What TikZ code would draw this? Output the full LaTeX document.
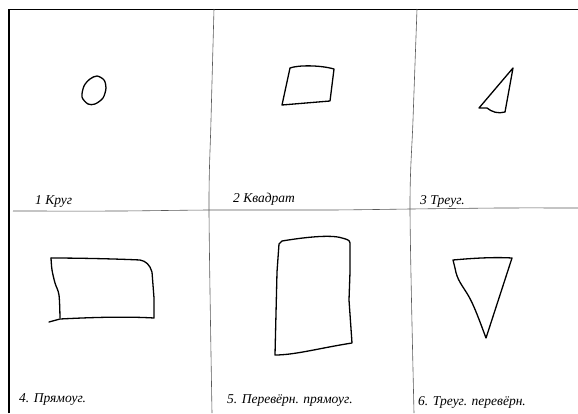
\documentclass[tikz,border=0pt]{standalone}
\usepackage{fontspec}
\setmainfont{Liberation Serif}
\begin{document}
\begin{tikzpicture}[x=1pt, y=-1pt,
  frame/.style={draw=black, line width=1.5pt},
  edge/.style={draw=black, line width=0.8pt},
  rule/.style={draw=black!65, line width=0.6pt},
  ink/.style={draw=black, line width=1.3pt, line join=round, line cap=round},
  lbl/.style={anchor=base west, inner sep=0pt, font=\itshape\fontsize{13.5}{15}\selectfont}]
  \useasboundingbox (0,0) rectangle (578,413);
  % sheet and panel rules
  \draw[frame] (9,413) -- (9,9);
  \draw[edge] (9,9) -- (578,9);
  \draw[rule] plot[smooth] coordinates {(13,211) (120,211) (210,210) (330,210) (411,209) (500,208) (578,208)};
  \draw[rule] plot[smooth] coordinates {(214,9) (211,120) (209,210) (212,413)};
  \draw[rule] plot[smooth] coordinates {(417,9) (413,120) (410,210) (414,413)};
  % 1: circle
  \draw[ink] plot[smooth cycle] coordinates {(97,76) (104,80) (106,88) (103,98) (95,104) (88,104) (82,97) (84,86) (90,79)};
  % 2: square
  \draw[ink] (290,68) .. controls (298,65) and (320,65) .. (334,69) -- (330,101) -- (282,105) -- cycle;
  % 3: triangle
  \draw[ink] (513,68) -- (505,112) .. controls (498,114) and (492,112) .. (487,108) -- (479,108) -- cycle;
  % 4: rectangle
  \draw[ink] (51,258) .. controls (80,258) and (120,259) .. (140,260)
    .. controls (146,261) and (150,265) .. (152,272) -- (154,298) -- (154,318)
    .. controls (120,316) and (80,318) .. (60,319) -- (49,322);
  \draw[ink] plot[smooth] coordinates {(51,258) (52,270) (55,283) (59,295) (60,318)};
  % 5: tall rectangle
  \draw[ink] (279,244) -- (282,241) .. controls (300,238) and (330,234) .. (342,238)
    .. controls (346,239) and (350,240) .. (350,243) -- (350,272) -- (349,300) -- (352,343)
    .. controls (320,348) and (295,355) .. (275,355) -- (277,272) -- cycle;
  % 6: inverted triangle
  \draw[ink] (453,260) .. controls (475,258) and (495,257) .. (512,258) -- (486,338)
    .. controls (480,322) and (474,305) .. (468,295) .. controls (462,285) and (457,280) .. (455,268) -- cycle;
  % captions
  \node[lbl] (l1) at (35,204) {1 Круг};
  \node[lbl] (l2) at (233,202) {2 Квадрат};
  \node[lbl] (l3) at (420,204) {3 Треуг.};
  \node[lbl] (l4) at (19,402) {4. Прямоуг.};
  \node[lbl] (l5) at (227,403) {5. Перевёрн. прямоуг.};
  \node[lbl] (l6) at (418,405) {6. Треуг. перевёрн.};
\end{tikzpicture}
\end{document}
